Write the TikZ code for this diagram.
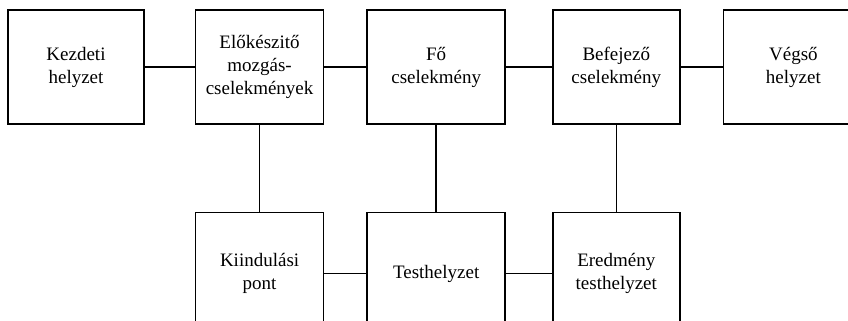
\documentclass[tikz,border=0pt]{standalone}
\usepackage{fontspec}
\setmainfont{Liberation Serif}
\usetikzlibrary{positioning}
\tikzset{
  box/.style={draw, line width=0.8pt, align=center, font=\fontsize{9.5}{11.5}\selectfont, inner sep=2pt, minimum height=57pt, minimum width=#1},
  box/.default=65pt,
  lowb/.style={box=#1, minimum height=61pt},
  lowb/.default=65pt,
  link/.style={line width=0.8pt},
}
\begin{document}
\begin{tikzpicture}[node distance=21pt and 21pt]
  \useasboundingbox (0,0) rectangle (424pt,-160.5pt);
  \node[box=68pt] (kezd) at (38pt,-33.5pt) {Kezdeti\\ helyzet};
  \node[box=64pt, right=25pt of kezd] (elok) {Előkészitő\\ mozgás-\\ cselekmények};
  \node[box=69pt, right=21pt of elok] (fo) {Fő\\ cselekmény};
  \node[box=63.5pt, right=23pt of fo] (befej) {Befejező\\ cselekmény};
  \node[box=70pt, right=21pt of befej] (vegso) {Végső\\ helyzet};
  \node[lowb=64pt, below=43.5pt of elok] (kiin) {Kiindulási\\ pont};
  \node[lowb=69pt, below=43.5pt of fo] (test) {Testhelyzet};
  \node[lowb=63.5pt, below=43.5pt of befej] (ered) {Eredmény\\ testhelyzet};
  \draw[link] (kezd) -- (elok); \draw[link] (elok) -- (fo); \draw[link] (fo) -- (befej); \draw[link] (befej) -- (vegso);
  \draw[link] (elok) -- (kiin); \draw[link] (fo) -- (test); \draw[link] (befej) -- (ered);
  \draw[link] (kiin) -- (test); \draw[link] (test) -- (ered);
\end{tikzpicture}
\end{document}
